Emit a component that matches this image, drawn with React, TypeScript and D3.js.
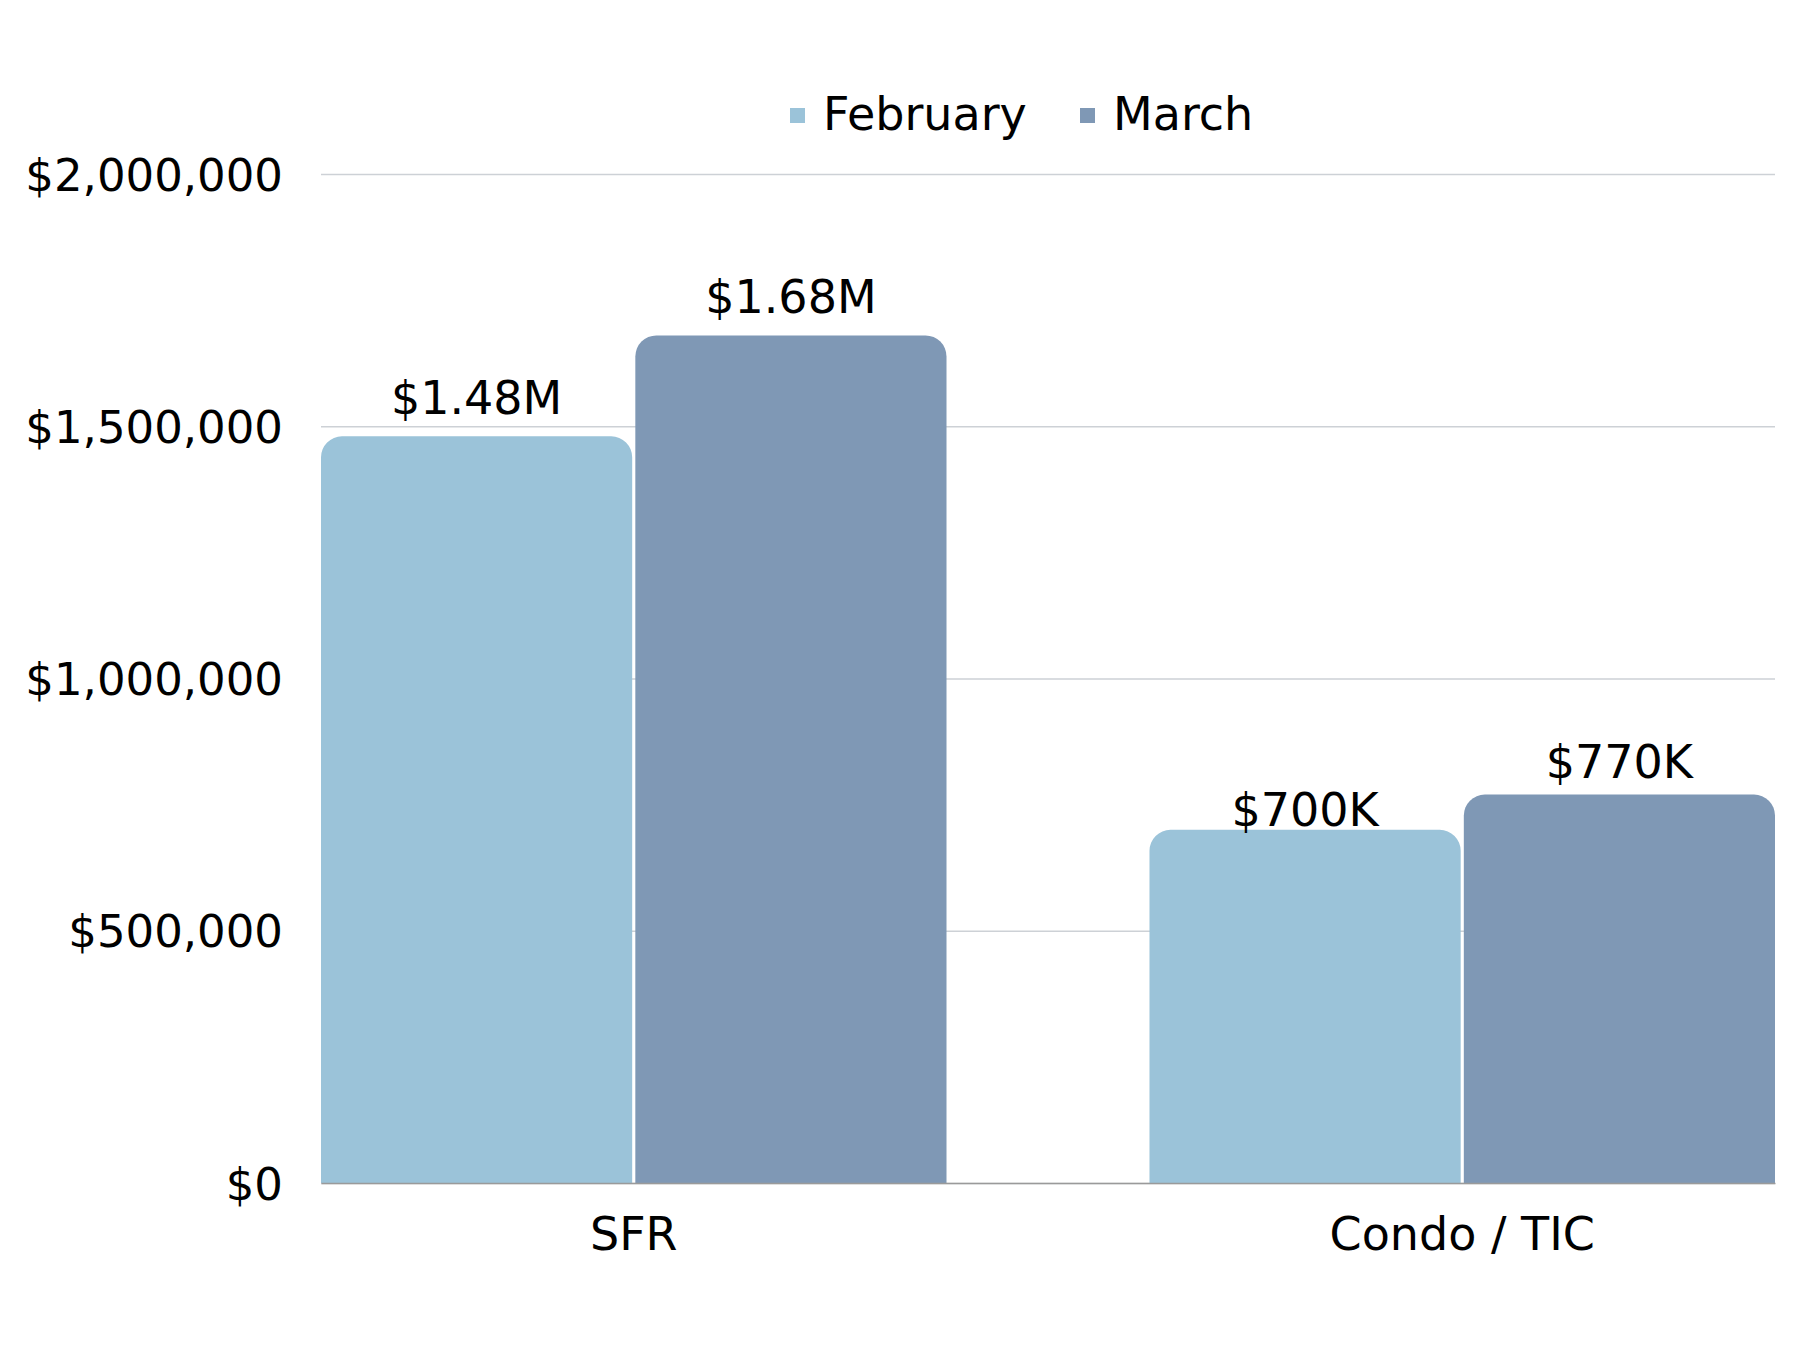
import { useEffect, useRef } from 'react'
import * as d3 from 'd3'

const categories = ['SFR', 'Condo / TIC']
const series = ['February', 'March']
const values = [
  [1480000, 1680000],
  [700000, 770000],
]
const valueLabels = [
  ['$1.48M', '$1.68M'],
  ['$700K', '$770K'],
]
const yTicks = [0, 500000, 1000000, 1500000, 2000000]

const COLORS = {
  February: '#9bc3d9',
  March: '#7f98b5',
  grid: '#cdd1d6',
  axis: '#9a9a9a',
  text: '#000000',
}
const FONT = '"DejaVu Sans", "Noto Sans", sans-serif'

// label lift above each bar top (px), as it sits in the original
const labelLift = [
  [22, 22],
  [4, 17],
]

function topRoundedBar(x: number, y: number, w: number, h: number, r: number) {
  const rr = Math.min(r, w / 2, h)
  return `M${x},${y + h}V${y + rr}A${rr},${rr} 0 0 1 ${x + rr},${y}H${x + w - rr}A${rr},${rr} 0 0 1 ${x + w},${y + rr}V${y + h}Z`
}

export default function App() {
  const svgRef = useRef<SVGSVGElement>(null)

  useEffect(() => {
    document.body.style.margin = '0'
    if (!svgRef.current) return
    const width = 1800
    const height = 1350
    const margin = { top: 174, right: 25, bottom: 167, left: 321 }

    const svg = d3.select(svgRef.current)
    svg.selectAll('*').remove()

    const x0 = d3.scaleBand<string>().domain(categories)
      .range([margin.left, width - margin.right])
      .paddingInner(0.245).paddingOuter(0)
    const x1 = d3.scaleBand<string>().domain(series)
      .range([0, x0.bandwidth()]).paddingInner(0.01)
    const y = d3.scaleLinear().domain([0, 2000000])
      .range([height - margin.bottom, margin.top])

    // Grid
    svg.append('g')
      .call(d3.axisLeft(y).tickValues(yTicks).tickSize(-(width - margin.left - margin.right))
        .tickFormat(d => '$' + d3.format(',')(d as number)))
      .attr('transform', `translate(${margin.left},0)`)
      .call(g => g.select('.domain').remove())
      .call(g => g.selectAll('.tick line').attr('stroke', COLORS.grid).attr('stroke-width', 1.3))
      .call(g => g.selectAll('.tick text')
        .attr('x', -38).attr('dy', '0.36em')
        .attr('fill', COLORS.text).attr('font-size', 45).attr('font-family', FONT))

    // Bars
    const groups = svg.append('g').selectAll('g').data(categories).join('g')
      .attr('transform', d => `translate(${x0(d)},0)`)

    groups.each(function (cat, ci) {
      const g = d3.select(this)
      series.forEach((s, si) => {
        const v = values[ci][si]
        const bx = x1(s)!
        const by = y(v)
        g.append('path')
          .attr('d', topRoundedBar(bx, by, x1.bandwidth(), y(0) - by, 21))
          .attr('fill', COLORS[s as 'February' | 'March'])
        g.append('text')
          .attr('x', bx + x1.bandwidth() / 2)
          .attr('y', by - labelLift[ci][si])
          .attr('text-anchor', 'middle')
          .attr('fill', COLORS.text).attr('font-size', 46).attr('font-family', FONT)
          .text(valueLabels[ci][si])
      })
    })

    // Baseline axis
    svg.append('g').attr('transform', `translate(0,${y(0)})`)
      .call(d3.axisBottom(x0).tickSize(0))
      .call(g => g.select('.domain').attr('stroke', COLORS.axis).attr('stroke-width', 1.5))
      .call(g => g.selectAll('.tick text')
        .attr('y', 67).attr('dy', 0)
        .attr('fill', COLORS.text).attr('font-size', 46).attr('font-family', FONT))

    // Legend
    const legendX = [790, 1080]
    const leg = svg.append('g')
    series.forEach((s, i) => {
      leg.append('rect').attr('x', legendX[i]).attr('y', 108).attr('width', 15).attr('height', 15)
        .attr('fill', COLORS[s as 'February' | 'March'])
      leg.append('text').attr('x', legendX[i] + 33).attr('y', 130)
        .attr('fill', COLORS.text).attr('font-size', 46).attr('font-family', FONT)
        .text(s)
    })
  }, [])

  return <svg ref={svgRef} width={1800} height={1350} style={{ display: 'block', background: '#fff' }} />
}
